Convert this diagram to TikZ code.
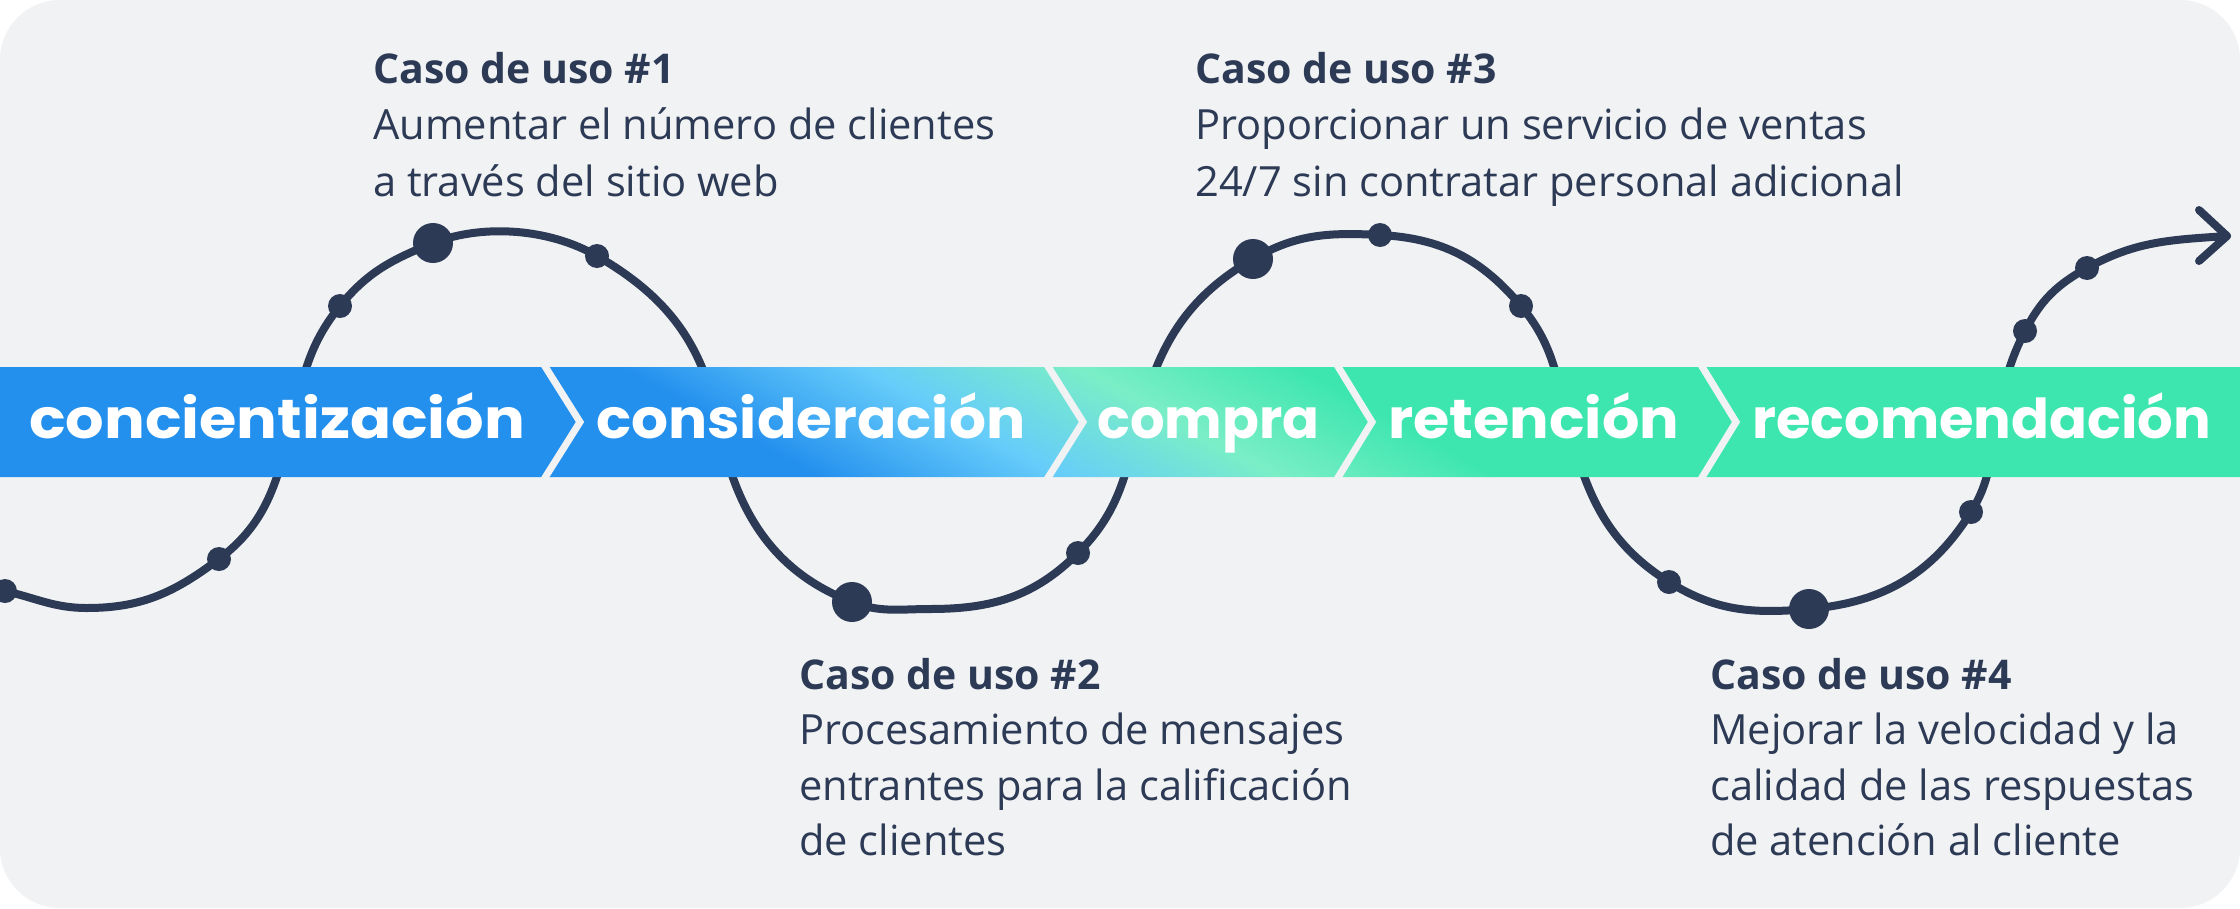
\documentclass[tikz,border=0pt]{standalone}
\usepackage{fontspec}
\setmainfont{Open Sans}
\newfontfamily\bandfont{Poppins}
\usepackage{graphicx}
\definecolor{bg}{HTML}{F1F2F4}
\definecolor{navy}{HTML}{2C3A55}
\definecolor{cblue}{HTML}{2490EE}
\definecolor{ccyan}{HTML}{66CCFA}
\definecolor{cmint}{HTML}{7AEEC6}
\definecolor{cgreen}{HTML}{3DE6AF}
\pgfdeclarehorizontalshading{bandgrad}{100bp}{color(0bp)=(cblue); color(42.65bp)=(cblue); color(47.09bp)=(ccyan); color(51.17bp)=(cmint); color(55.24bp)=(cgreen); color(100bp)=(cgreen)}
\tikzset{
  dotS/.style={circle, fill=navy, inner sep=0pt, minimum size=24pt},
  dotB/.style={circle, fill=navy, inner sep=0pt, minimum size=40pt},
  pathline/.style={navy, line width=8pt, line cap=round, line join=round},
  sep/.style={bg, line width=7pt},
  bandtext/.style={text=white, font=\bandfont\bfseries\fontsize{55}{60}\selectfont, inner sep=0pt, anchor=base west},
  casetitle/.style={text=navy, font=\bfseries\fontsize{41}{50}\selectfont, inner sep=0pt, anchor=base west},
  casetext/.style={text=navy, font=\fontsize{41.6}{50}\selectfont, inner sep=0pt, anchor=base west},
}
\begin{document}
\begin{tikzpicture}[x=1pt, y=-1pt]
\useasboundingbox (0,0) rectangle (2240,908);
\fill[white] (0,0) rectangle (2240,908);
\fill[bg, rounded corners=60pt] (0,0) rectangle (2240,908);

% dots (positions)
\node[dotS] (d1) at (5,591) {};
\node[dotS] (d2) at (219,559) {};
\node[dotS] (d3) at (340,306) {};
\node[dotB] (d4) at (433,243) {};
\node[dotS] (d5) at (597,256) {};
\node[dotB] (d6) at (852,602) {};
\node[dotS] (d7) at (1078,553) {};
\node[dotB] (d8) at (1253,259) {};
\node[dotS] (d9) at (1380,235) {};
\node[dotS] (d10) at (1521,306) {};
\node[dotS] (d11) at (1669,582) {};
\node[dotB] (d12) at (1809,609) {};
\node[dotS] (d13) at (1971,512) {};
\node[dotS] (d14) at (2025,331) {};
\node[dotS] (d15) at (2087,268) {};
\coordinate (t1) at (87,608);
\coordinate (x1) at (292,422);
\coordinate (x2) at (718,422);
\coordinate (t3) at (930,609);
\coordinate (x3) at (1139,422);
\coordinate (x4) at (1568,422);
\coordinate (x5) at (1997,422);
\coordinate (tip) at (2227,236);
\coordinate (armA) at (2199,210);
\coordinate (armB) at (2199,261);

% curve
\draw[pathline] (d1.center) to[out=-13, in=180] (t1)
  to[out=0, in=217] (d2.center)
  to[out=37, in=256] (x1)
  to[out=76, in=231] (d3.center)
  to[out=51, in=202] (d4.center)
  to[out=21, in=150, looseness=0.85] (d5.center)
  to[out=-30, in=101] (x2)
  to[out=-79, in=159] (d6.center)
  to[out=-21, in=180] (t3)
  to[out=0, in=225] (d7.center)
  to[out=45, in=256] (x3)
  to[out=76, in=210] (d8.center)
  to[out=30, in=177] (d9.center)
  to[out=-3, in=130] (d10.center)
  to[out=-50, in=104] (x4)
  to[out=-76, in=148] (d11.center)
  to[out=-32, in=185] (d12.center)
  to[out=5, in=238] (d13.center)
  to[out=58, in=259] (x5)
  to[out=79, in=243] (d14.center)
  to[out=63, in=209] (d15.center)
  to[out=29, in=184] (tip);
\draw[pathline] (armA) -- (tip) -- (armB);

% band
\begin{scope}
  \clip (0,367) rectangle (2240,477);
  \begin{scope}[transform canvas={xslant=-1.818}]
    \shade[shading=bandgrad] (-1000,367) rectangle (1700,477);
  \end{scope}
\end{scope}
\draw[sep] (541,360) -- (580,422) -- (541,484);
\draw[sep] (1044,360) -- (1083,422) -- (1044,484);
\draw[sep] (1334,360) -- (1372,422) -- (1334,484);
\draw[sep] (1698,360) -- (1736,422) -- (1698,484);

\node[bandtext] (b1) at (29,438) {\resizebox{496pt}{\height}{concientización}};
\node[bandtext] (b2) at (596,438) {\resizebox{429pt}{\height}{consideración}};
\node[bandtext] (b3) at (1097,438) {\resizebox{222pt}{\height}{compra}};
\node[bandtext] (b4) at (1388,438) {\resizebox{291pt}{\height}{retención}};
\node[bandtext] (b5) at (1752,438) {\resizebox{459pt}{\height}{recomendación}};

% texts
\node[casetitle] (c1t) at (373,83) {Caso de uso \#1};
\node[casetext] (c1a) at (373,139.5) {Aumentar el número de clientes};
\node[casetext] (c1b) at (373,196) {a través del sitio web};

\node[casetitle] (c3t) at (1195,83) {Caso de uso \#3};
\node[casetext] (c3a) at (1195,139.5) {Proporcionar un servicio de ventas};
\node[casetext] (c3b) at (1195,196) {24/7 sin contratar personal adicional};

\node[casetitle] (c2t) at (799,689) {Caso de uso \#2};
\node[casetext] (c2a) at (799,744.5) {Procesamiento de mensajes};
\node[casetext] (c2b) at (799,800) {entrantes para la calificación};
\node[casetext] (c2c) at (799,855.5) {de clientes};

\node[casetitle] (c4t) at (1710,689) {Caso de uso \#4};
\node[casetext] (c4a) at (1710,744.5) {Mejorar la velocidad y la};
\node[casetext] (c4b) at (1710,800) {calidad de las respuestas};
\node[casetext] (c4c) at (1710,855.5) {de atención al cliente};
\end{tikzpicture}
\end{document}
